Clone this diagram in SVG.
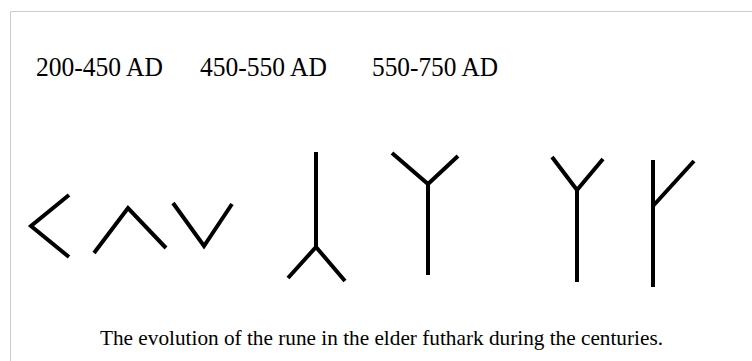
<svg xmlns="http://www.w3.org/2000/svg" width="752" height="361" viewBox="0 0 752 361">
<style>
.hdr{font-family:"Liberation Serif","Times New Roman",serif;font-size:28px;fill:#000}
.cap{font-family:"Liberation Serif","Times New Roman",serif;font-size:21px;fill:#000}
.rune{fill:none;stroke:#000;stroke-width:4;stroke-linecap:butt;stroke-linejoin:miter}
</style>
<rect width="752" height="361" fill="#fff"/>
<path d="M10.5 361 V11.5 H752" fill="none" stroke="#ccc" stroke-width="1"/>
<g id="headers">
<text class="hdr" x="36" y="76" textLength="127" lengthAdjust="spacingAndGlyphs">200-450 AD</text>
<text class="hdr" x="200" y="76" textLength="127" lengthAdjust="spacingAndGlyphs">450-550 AD</text>
<text class="hdr" x="372" y="76" textLength="126" lengthAdjust="spacingAndGlyphs">550-750 AD</text>
</g>
<g id="runes">
<polyline id="rune1" class="rune" points="69,195 31,226 69,257"/>
<polyline id="rune2" class="rune" points="94,253 128,208 166,248"/>
<polyline id="rune3" class="rune" points="173,203 204,246 232,204"/>
<g id="rune4"><line class="rune" x1="316" y1="152" x2="316" y2="247"/><polyline class="rune" points="288,278 316,247 345,281"/></g>
<g id="rune5"><polyline class="rune" points="392,153 428,184 458,156"/><line class="rune" x1="428" y1="184" x2="428" y2="275"/></g>
<g id="rune6"><polyline class="rune" points="552,157 577,190 603,159"/><line class="rune" x1="577" y1="190" x2="577" y2="282"/></g>
<g id="rune7"><line class="rune" x1="653" y1="160" x2="653" y2="287"/><line class="rune" x1="653" y1="206" x2="694" y2="161"/></g>
</g>
<g id="caption">
<text class="cap" x="100" y="345" textLength="563" lengthAdjust="spacingAndGlyphs">The evolution of the rune in the elder futhark during the centuries.</text>
</g>
</svg>
